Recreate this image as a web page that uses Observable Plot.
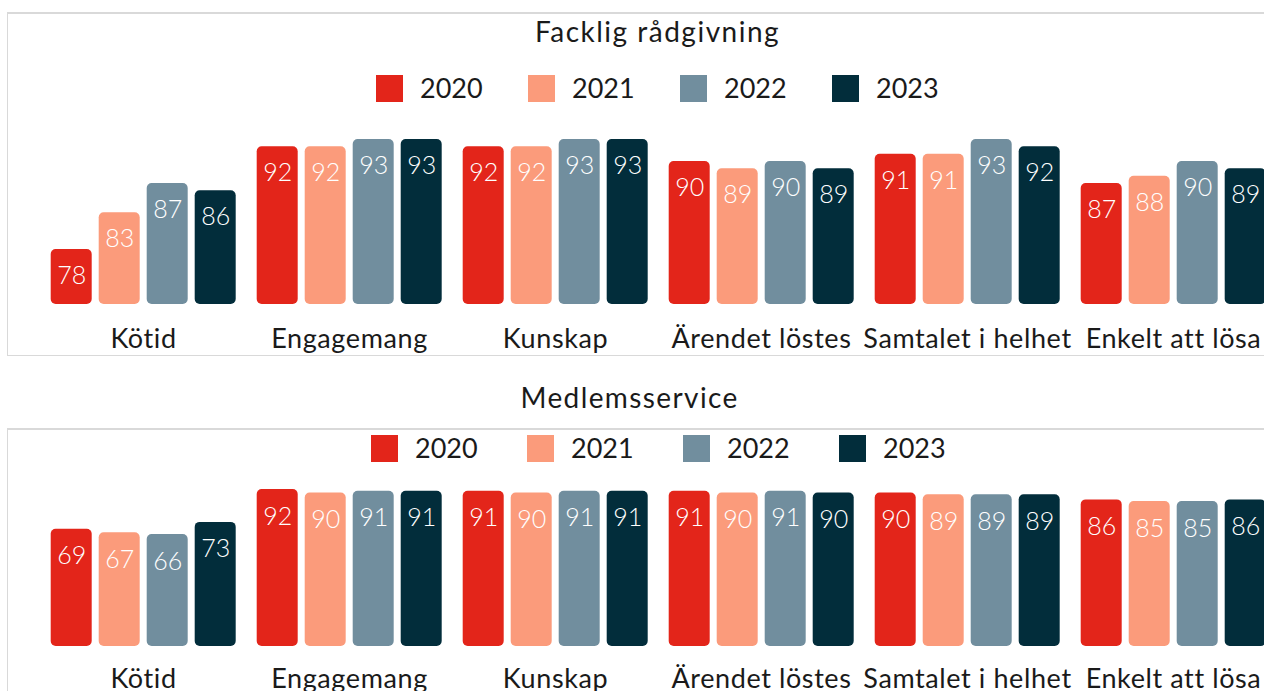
<!DOCTYPE html>
<html>
<head>
<meta charset="utf-8">
<script src="https://cdn.jsdelivr.net/npm/d3@7"></script>
<script src="https://cdn.jsdelivr.net/npm/@observablehq/plot@0.6"></script>
<style>
  html, body { margin: 0; padding: 0; background: #fff; }
  body { width: 1264px; height: 691px; overflow: hidden; position: relative; font-family: Lato, sans-serif; color: #1a1a1a; }
  .box { position: absolute; border: 1.5px solid #d9d9d9; border-top-width: 2px; box-sizing: border-box; }
  .title { position: absolute; font-size: 28px; line-height: 28px; white-space: nowrap; transform: translateX(-50%); }
  .legend { position: absolute; display: flex; }
  .item { position: relative; height: 27px; }
  .sw { position: absolute; left: 0; top: 0; width: 27px; height: 27px; }
  .lab { position: absolute; left: 44px; top: -1px; font-size: 27px; line-height: 27px; white-space: nowrap; }
  .chart { position: absolute; left: 0; width: 1277px; }
  .chart svg { max-width: none !important; }
</style>
</head>
<body>
<script>
// ---- data ----
const categories = ["Kötid", "Engagemang", "Kunskap", "Ärendet löstes", "Samtalet i helhet", "Enkelt att lösa"];
const years = ["2020", "2021", "2022", "2023"];
const colors = ["#e3251a", "#fb9b7b", "#718e9e", "#022d3b"];

const facklig2020 = [78, 92, 92, 90, 91, 87];
const facklig2021 = [83, 92, 92, 89, 91, 88];
const facklig2022 = [87, 93, 93, 90, 93, 90];
const facklig2023 = [86, 93, 93, 89, 92, 89];

const medlem2020 = [69, 92, 91, 91, 90, 86];
const medlem2021 = [67, 90, 90, 90, 89, 85];
const medlem2022 = [66, 91, 91, 91, 89, 85];
const medlem2023 = [73, 91, 91, 90, 89, 86];

const fackligDomain = [70.5, 93];
const medlemDomain = [1.3, 92];

function toRows(series) {
  const rows = [];
  categories.forEach((c, i) => {
    years.forEach((y, j) => rows.push({cat: c, year: y, value: series[j][i]}));
  });
  return rows;
}

const fackligRows = toRows([facklig2020, facklig2021, facklig2022, facklig2023]);
const medlemRows = toRows([medlem2020, medlem2021, medlem2022, medlem2023]);

function el(tag, cls, css, text) {
  const e = document.createElement(tag);
  if (cls) e.className = cls;
  Object.assign(e.style, css || {});
  if (text != null) e.textContent = text;
  document.body.appendChild(e);
  return e;
}

function legend(left, top, step) {
  const lg = el("div", "legend", {left: left + "px", top: top + "px"});
  years.forEach((y, i) => {
    const it = document.createElement("div");
    it.className = "item";
    it.style.width = step + "px";
    const sw = document.createElement("div");
    sw.className = "sw";
    sw.style.background = colors[i];
    const lab = document.createElement("div");
    lab.className = "lab";
    lab.textContent = y;
    it.appendChild(sw); it.appendChild(lab);
    lg.appendChild(it);
  });
}

function chart(rows, domain, opts) {
  const svg = Plot.plot({
    width: 1277,
    height: opts.height,
    marginLeft: 38.3,
    marginRight: 0,
    marginTop: opts.marginTop,
    marginBottom: opts.marginBottom,
    style: {fontFamily: "Lato, sans-serif", fontSize: "27px", color: "#1a1a1a", background: "transparent", overflow: "visible", maxWidth: "none"},
    fx: {domain: categories, padding: 0, axis: "bottom", tickSize: 0, tickPadding: opts.tickPadding, label: null},
    x: {domain: years, paddingInner: 0.149, paddingOuter: 0.196, axis: null},
    y: {domain: domain, axis: null},
    color: {domain: years, range: colors},
    marks: [
      Plot.barY(rows, {fx: "cat", x: "year", y1: domain[0], y2: "value", fill: "year", rx: 5}),
      Plot.text(rows, {fx: "cat", x: "year", y: "value", text: d => String(d.value), dy: opts.dy, fill: "white", fontSize: 25, fontWeight: 300, lineAnchor: "middle"})
    ]
  });
  d3.select(svg).selectAll('g[aria-label^="fx-axis"] text').style("letter-spacing", "0.6px");
  return svg;
}

// ---- top panel ----
el("div", "box", {left: "7px", top: "12px", width: "1320px", height: "344px"});
el("div", "title", {left: "657.5px", top: "17px", letterSpacing: "1.5px"}, "Facklig rådgivning");
legend(376, 75, 152);
const c1 = chart(fackligRows, fackligDomain, {height: 360, marginTop: 139, marginBottom: 56, tickPadding: 24, dy: 26.5});
const w1 = el("div", "chart", {top: "0px"});
w1.appendChild(c1);

// ---- bottom panel ----
el("div", "title", {left: "629.6px", top: "383.3px", letterSpacing: "1.4px"}, "Medlemsservice");
el("div", "box", {left: "7px", top: "428px", width: "1320px", height: "400px"});
legend(371, 435, 156);
const c2 = chart(medlemRows, medlemDomain, {height: 331, marginTop: 129, marginBottom: 45, tickPadding: 22, dy: 27});
const w2 = el("div", "chart", {top: "360px"});
w2.appendChild(c2);
</script>
</body>
</html>
